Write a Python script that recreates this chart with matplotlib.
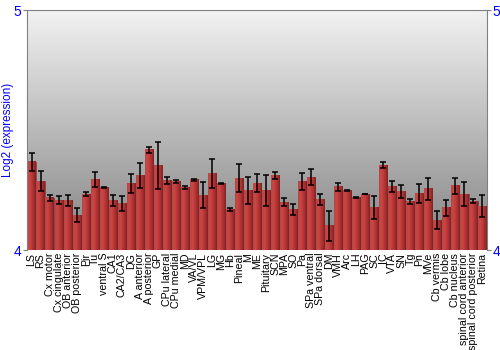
"""
Bar chart of log2 expression across brain regions, with error bars
"""

import numpy as np
from matplotlib import pyplot as plt
from matplotlib.colors import LinearSegmentedColormap


# data
regions = ['LS', 'RS', 'Cx motor', 'Cx cingulate', 'OB anterior', 'OB posterior',
           'Pir', 'Tu', 'ventral S', 'CA1', 'CA2/CA3', 'DG', 'A anterior',
           'A posterior', 'GP', 'CPu lateral', 'CPu medial', 'MD', 'VA/VL',
           'VPM/VPL', 'LG', 'MG', 'Hb', 'Pineal', 'M', 'ME', 'Pituitary', 'SCN',
           'MPA', 'SO', 'Pa', 'SPa ventral', 'SPa dorsal', 'DM', 'VMH', 'Arc',
           'LH', 'PAG', 'SC', 'IC', 'VTA', 'SN', 'Tg', 'Pn', 'MVe', 'Cb vermis',
           'Cb lobe', 'Cb nucleus', 'spinal cord anterior',
           'spinal cord posterior', 'Retina']

expression = [4.368, 4.286, 4.217, 4.208, 4.207, 4.145, 4.232, 4.293, 4.261,
              4.208, 4.194, 4.278, 4.311, 4.417, 4.353, 4.290, 4.286, 4.260,
              4.292, 4.229, 4.319, 4.279, 4.169, 4.299, 4.247, 4.278, 4.247,
              4.310, 4.200, 4.167, 4.285, 4.303, 4.210, 4.101, 4.264, 4.246,
              4.218, 4.233, 4.178, 4.354, 4.265, 4.242, 4.203, 4.236, 4.255,
              4.124, 4.176, 4.267, 4.233, 4.204, 4.183]

errors = [0.037, 0.042, 0.014, 0.018, 0.024, 0.029, 0.009, 0.030, 0.003,
          0.023, 0.030, 0.040, 0.053, 0.012, 0.097, 0.014, 0.007, 0.005,
          0.005, 0.053, 0.059, 0.002, 0.006, 0.058, 0.057, 0.037, 0.065,
          0.016, 0.015, 0.023, 0.034, 0.033, 0.022, 0.062, 0.017, 0.002,
          0.002, 0.001, 0.047, 0.012, 0.024, 0.027, 0.010, 0.041, 0.046,
          0.038, 0.033, 0.035, 0.049, 0.008, 0.045]

y_ticks = [4, 5]

# styles
clr_axis_text = '#0000ff'
clr_frame = '#808080'
bar_cmap = LinearSegmentedColormap.from_list(
    'barshade', ['#b04848', '#cc4646', '#c03a3a', '#a52e2e', '#7c2222'])
bg_cmap = LinearSegmentedColormap.from_list('bg', ['#828282', '#f2f2f2'])

plt.rcParams['font.family'] = ['Liberation Sans', 'DejaVu Sans']

fig = plt.figure(figsize=(5, 3.5), dpi=100)
ax = fig.add_axes([0.054, 0.2857, 0.92, 0.6857])

x = np.arange(len(regions))
x_lim = (-0.5, len(regions) - 0.5)
y_lim = (y_ticks[0], y_ticks[-1])

# gradient background
ax.imshow(np.linspace(0, 1, 256).reshape(-1, 1), cmap=bg_cmap, aspect='auto',
          origin='lower', extent=(*x_lim, *y_lim), zorder=0)

bars = ax.bar(x, expression, width=0.9, color='#b83434', edgecolor='#7a3030',
              linewidth=0.4, zorder=2)

# shade each bar with a left-to-right gradient (only the visible part)
shade = np.linspace(0, 1, 64).reshape(1, -1)
for patch in bars:
    x0, w = patch.get_x(), patch.get_width()
    top = patch.get_y() + patch.get_height()
    ax.imshow(shade, cmap=bar_cmap, aspect='auto',
              extent=(x0, x0 + w, y_lim[0], top), zorder=2.5)

ax.errorbar(x, expression, yerr=errors, fmt='none', ecolor='black',
            elinewidth=1.1, capsize=2, capthick=1.1, zorder=3)

ax.set_xlim(*x_lim)
ax.set_ylim(*y_lim)

ax.set_xticks(x)
ax.set_xticklabels(regions, rotation=90, fontsize=7.7)
ax.tick_params(axis='x', length=0, pad=2)

ax.set_yticks(y_ticks)
ax.tick_params(axis='y', colors=clr_frame, labelcolor=clr_axis_text,
               labelsize=10, length=3, right=True, labelright=True, pad=1)
ax.set_ylabel('Log2 (expression)', color=clr_axis_text, fontsize=8.5, labelpad=0)

for side in ['left', 'right', 'top']:
    ax.spines[side].set_color(clr_frame)
ax.spines['bottom'].set_visible(False)

fig.savefig('out.png', dpi=100)
